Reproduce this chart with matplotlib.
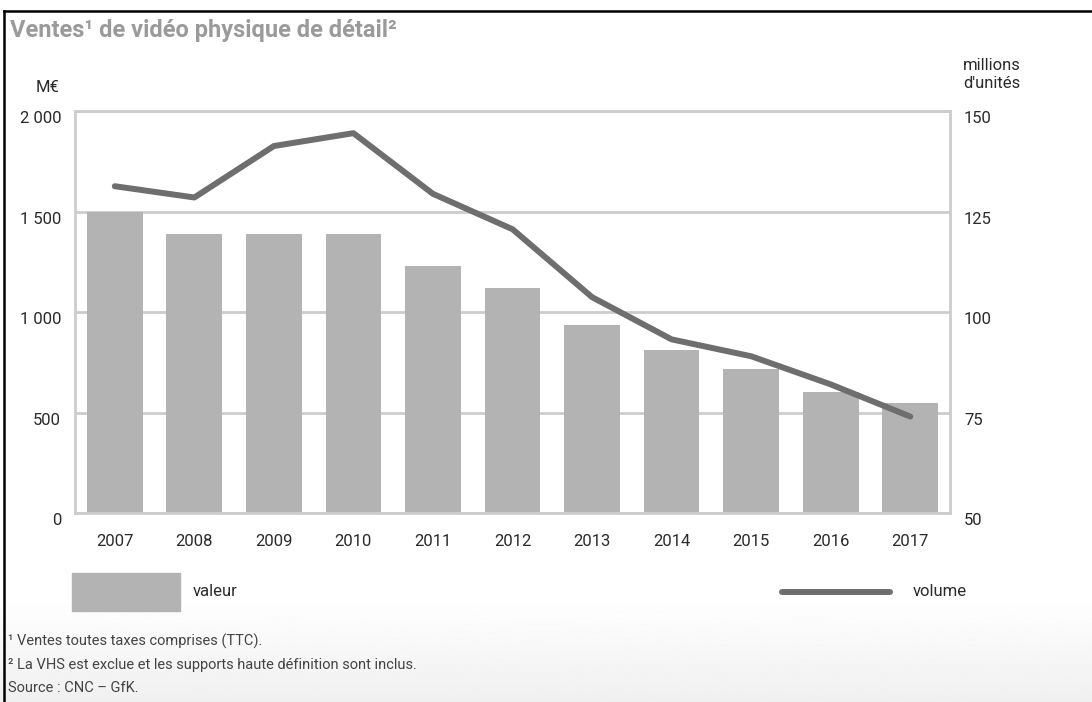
import matplotlib
matplotlib.use("Agg")
import matplotlib.pyplot as plt
from matplotlib.lines import Line2D
import numpy as np

plt.rcParams["font.family"] = ["Roboto", "DejaVu Sans"]

# --- Data -------------------------------------------------------------------
years = ["2007", "2008", "2009", "2010", "2011", "2012",
         "2013", "2014", "2015", "2016", "2017"]
valeur = [1500, 1390, 1390, 1390, 1230, 1120, 935, 810, 715, 600, 545]   # M€
volume = [131.3, 128.5, 141.3, 144.5, 129.4, 120.6, 103.7, 93.2, 89.0, 82.0, 74.0]  # millions d'unités

left_ticks = [0, 500, 1000, 1500, 2000]
left_labels = ["0", "500", "1 000", "1 500", "2 000"]
right_ticks = [50, 75, 100, 125, 150]

BAR = "#b3b3b3"
LINE = "#6e6e6e"
FRAME = "#cccccc"
TXT = "#2a2a2a"
FS = 12

fig = plt.figure(figsize=(10.92, 7.02), dpi=100)

# soft grey fade at the bottom of the panel
bg = fig.add_axes([0, 0, 1, 0.15], zorder=-5)
grad = np.linspace(0.94, 1.0, 100).reshape(-1, 1)
bg.imshow(grad, aspect="auto", cmap="gray", vmin=0, vmax=1,
          extent=[0, 1, 0, 1], origin="lower")
bg.set_axis_off()

ax = fig.add_axes([0.0687, 0.2692, 0.8013, 0.5726])
x = np.arange(len(years))
ax.bar(x, valeur, width=0.70, color=BAR, zorder=2)
ax.set_xlim(-0.5, len(years) - 0.5)
ax.set_ylim(0, 2000)
ax.set_yticks(left_ticks)
ax.set_yticklabels(left_labels)
ax.set_xticks(x)
ax.set_xticklabels(years)
ax.grid(axis="y", color=FRAME, lw=2, zorder=0)
ax.set_axisbelow(True)
for s in ax.spines.values():
    s.set_color(FRAME)
    s.set_linewidth(2)
ax.tick_params(axis="both", length=0, colors=TXT, labelsize=FS)
ax.tick_params(axis="x", pad=15)
ax.tick_params(axis="y", pad=10)
for lab in ax.get_yticklabels():
    lab.set_verticalalignment("top")

ax2 = ax.twinx()
ax2.plot(x, volume, color=LINE, lw=4.3, solid_capstyle="round",
         solid_joinstyle="round", zorder=3)
ax2.set_ylim(50, 150)
ax2.set_yticks(right_ticks)
ax2.tick_params(axis="y", length=0, colors=TXT, labelsize=FS, pad=10)
for lab in ax2.get_yticklabels():
    lab.set_verticalalignment("top")
for s in ax2.spines.values():
    s.set_visible(False)

# --- Titles and axis units --------------------------------------------------
fig.text(10 / 1092, 1 - 30 / 702, "Ventes¹ de vidéo physique de détail²",
         color="#9a9a9a", fontsize=17, fontweight="bold", va="center")
fig.text(48 / 1092, 1 - 88 / 702, "M€", color=TXT, fontsize=FS,
         ha="center", va="center")
fig.text(963 / 1092, 1 - 75 / 702, "millions\nd'unités", color=TXT,
         fontsize=FS, ha="left", va="center", linespacing=1.25)

# --- Legend -----------------------------------------------------------------
fig.patches.append(plt.Rectangle((72 / 1092, 1 - 611 / 702), 108 / 1092,
                                 38 / 702, transform=fig.transFigure,
                                 color=BAR))
fig.text(193 / 1092, 1 - 592 / 702, "valeur", color=TXT, fontsize=FS,
         va="center")
fig.lines.append(Line2D([782 / 1092, 890 / 1092], [1 - 592 / 702] * 2,
                        transform=fig.transFigure, color=LINE, lw=4.3,
                        solid_capstyle="round"))
fig.text(913 / 1092, 1 - 592 / 702, "volume", color=TXT, fontsize=FS,
         va="center")

# --- Footnotes --------------------------------------------------------------
notes = ["¹ Ventes toutes taxes comprises (TTC).",
         "² La VHS est exclue et les supports haute définition sont inclus.",
         "Source : CNC – GfK."]
for i, note in enumerate(notes):
    fig.text(8 / 1092, 1 - (641 + 23.5 * i) / 702, note, color="#444444",
             fontsize=10.5, va="center")

# black frame on top and left edges
fig.lines.append(Line2D([4 / 1092, 1], [1 - 11 / 702] * 2,
                        transform=fig.transFigure, color="black", lw=1.8))
fig.lines.append(Line2D([4 / 1092] * 2, [0, 1 - 11 / 702],
                        transform=fig.transFigure, color="black", lw=1.8))

fig.savefig("out.png", dpi=100)
